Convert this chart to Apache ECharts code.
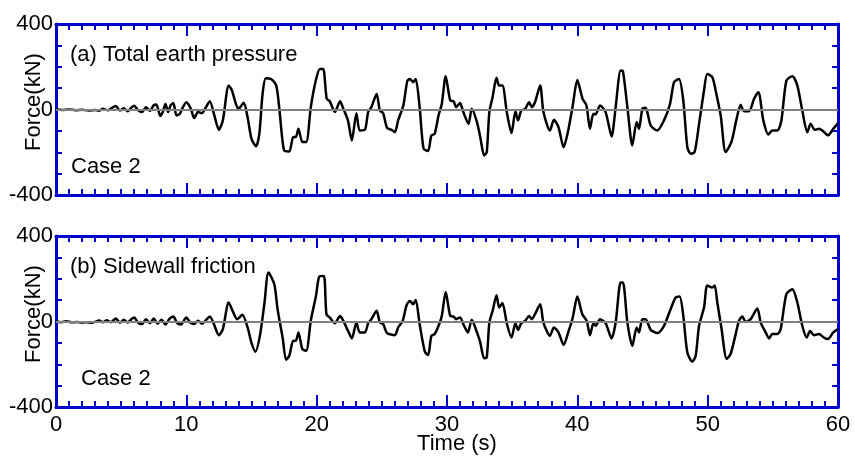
<!DOCTYPE html>
<html>
<head>
<meta charset="utf-8">
<script src="https://cdn.jsdelivr.net/npm/echarts@6/dist/echarts.min.js"></script>
<style>
  html, body { margin: 0; padding: 0; background: #fff; }
  #chart { width: 855px; height: 461px; }
</style>
</head>
<body>
<div id="chart"></div>
<script>
// (a) Total earth pressure, Case 2: time (s) and force (kN)
const timeA = [0, 0.5, 1.0, 1.5, 2.0, 2.5, 3.0, 3.3, 3.6, 4.0, 4.3, 4.6, 4.9, 5.2, 5.5, 5.8, 6.0, 6.3, 6.6, 6.9,
  7.2, 7.5, 7.7, 8.0, 8.2, 8.4, 8.6, 8.8, 9.0, 9.25, 9.5, 9.75, 10.0, 10.35, 10.6, 10.9, 11.2, 11.5, 11.8, 12.15,
  12.5, 12.8, 13.25, 13.5, 13.8, 14.0, 14.4, 14.7, 15.0, 15.35, 15.6, 15.85, 16.1, 16.5, 16.9, 17.15, 17.5, 17.9, 18.2, 18.4,
  18.6, 18.9, 19.2, 19.55, 19.95, 20.25, 20.5, 20.77, 21.0, 21.4, 21.8, 22.05, 22.4, 22.7, 23.05, 23.3, 23.7, 23.95, 24.2, 24.6,
  24.85, 25.1, 25.4, 25.75, 26.0, 26.25, 26.65, 26.95, 27.15, 27.4, 27.6, 27.9, 28.2, 28.55, 28.8, 29.05, 29.35, 29.6, 29.9, 30.25,
  30.5, 30.7, 31.0, 31.25, 31.65, 31.9, 32.3, 32.55, 32.85, 33.05, 33.25, 33.5, 33.8, 34.0, 34.25, 34.6, 34.95, 35.25, 35.45, 35.7,
  36.0, 36.3, 36.5, 36.75, 37.15, 37.4, 37.9, 38.2, 38.55, 38.95, 39.3, 39.65, 40.0, 40.4, 40.7, 40.97, 41.23, 41.4, 41.74, 42.17,
  42.63, 42.94, 43.32, 43.5, 43.84, 44.22, 44.55, 44.73, 44.99, 45.24, 45.63, 46.14, 46.65, 47.11, 47.42, 47.8, 48.13, 48.44, 48.7, 49.0,
  49.34, 49.72, 49.97, 50.36, 50.61, 51.0, 51.38, 51.82, 52.22, 52.53, 52.79, 53.17, 53.56, 53.89, 54.27, 54.65, 54.96, 55.35, 55.65, 56.04,
  56.5, 56.88, 57.26, 57.65, 57.9, 58.21, 58.54, 58.85, 59.23, 59.64, 60.0];
const forceA = [0, -2, 0, -3, -1, -5, -2, -6, 3, -4, 8, 16, -5, 6, -8, 10, 18, -4, -12, 10,
  -6, 20, 23, -30, -10, 26, -12, 20, 30, -28, -20, 12, 34, 3, -40, -12, -17, 10, 39, -28,
  -95, -51, 112, 89, 26, 3, 31, -36, -137, -172, -114, 73, 146, 143, 112, -5, -191, -196, -129, -129,
  -90, -152, -152, 11, 140, 190, 190, 50, 39, -12, 39, 3, -51, -145, -17, -98, -95, -12, 11, 73,
  -5, -17, -86, -95, -106, -51, 19, 132, 143, 128, 143, 11, -183, -194, -121, -114, -28, 26, 156, 42,
  39, 11, 30, -12, -67, 3, -59, -129, -215, -199, -12, 58, 148, 112, 112, -17, -110, -8, -51, -5,
  3, 34, 11, 34, 112, -12, -98, -48, -82, -176, -98, 19, 138, 50, 19, -90, -20, -23, 19, -12,
  -126, 11, 182, 179, 11, -168, -59, -90, 3, 8, -75, -98, -51, 26, 128, 143, 42, -176, -207, -199,
  -67, 89, 166, 151, 89, -28, -199, -152, -44, 22, -8, -8, 50, 81, -51, -117, -98, -98, -54, 135,
  156, 112, -5, -106, -67, -95, -90, -101, -121, -90, -64];

// (b) Sidewall friction, Case 2: time (s) and force (kN)
const timeB = [0, 0.4, 0.8, 1.2, 1.6, 2.0, 2.4, 2.7, 3.0, 3.3, 3.6, 3.9, 4.2, 4.6, 4.9, 5.2, 5.5, 5.8, 6.0, 6.3,
  6.6, 6.9, 7.2, 7.5, 7.8, 8.1, 8.4, 8.7, 9.0, 9.3, 9.6, 9.85, 10.0, 10.3, 10.6, 10.9, 11.2, 11.5, 11.8, 12.1,
  12.5, 12.8, 13.25, 13.55, 13.9, 14.3, 14.7, 15.0, 15.3, 15.65, 16.0, 16.3, 16.75, 17.0, 17.4, 17.65, 17.9, 18.2, 18.4, 18.6,
  18.9, 19.2, 19.55, 19.95, 20.2, 20.55, 20.75, 21.0, 21.4, 21.8, 22.05, 22.4, 22.7, 23.05, 23.3, 23.7, 23.95, 24.2, 24.6, 24.85,
  25.1, 25.4, 26.0, 26.25, 26.6, 26.9, 27.15, 27.4, 27.6, 27.9, 28.3, 28.55, 28.8, 29.05, 29.3, 29.6, 29.9, 30.25, 30.5, 30.7,
  31.0, 31.25, 31.6, 31.9, 32.3, 32.55, 32.85, 33.05, 33.25, 33.5, 33.8, 34.0, 34.25, 34.6, 34.95, 35.25, 35.45, 35.7, 36.0, 36.3,
  36.5, 36.75, 37.15, 37.4, 37.9, 38.2, 38.55, 38.95, 39.3, 39.65, 40.0, 40.38, 40.72, 40.97, 41.23, 41.4, 41.74, 42.17, 42.63, 42.94,
  43.32, 43.5, 43.84, 44.22, 44.55, 44.73, 44.99, 45.24, 45.63, 46.14, 46.65, 47.11, 47.54, 47.85, 48.13, 48.44, 48.82, 49.08, 49.34, 49.72,
  49.97, 50.36, 50.54, 50.74, 51.05, 51.46, 51.76, 52.15, 52.4, 52.66, 52.92, 53.3, 53.81, 54.07, 54.45, 54.71, 54.96, 55.35, 55.6, 56.04,
  56.5, 56.88, 57.26, 57.6, 57.85, 58.16, 58.54, 58.92, 59.23, 59.64, 60.0];
const forceB = [0, -3, 1, -4, -2, -5, -3, -6, -2, 5, -4, 6, -3, 14, -6, 8, -5, 12, 19, -6,
  -12, 10, -8, 14, -10, 8, -14, 12, 23, -8, -14, 8, 19, -5, -12, 4, -10, 6, 23, -10,
  -64, -36, 89, 50, 11, 31, -28, -100, -141, -65, 89, 229, 174, 58, -81, -179, -160, -90, -90, -51,
  -129, -137, 5, 120, 210, 213, 34, 19, -8, 26, 3, -43, -79, -5, -51, -51, -8, 11, 50, -5,
  -12, -54, -64, -28, 3, 76, 96, 81, 101, -12, -141, -157, -67, -59, -28, 26, 138, 26, 23, 11,
  19, -12, -51, 8, -51, -98, -172, -168, -5, 50, 123, 65, 86, -12, -75, -8, -39, -8, 3, 26,
  11, 34, 81, -5, -67, -28, -51, -110, -51, 19, 117, 34, 3, -64, -8, -20, 11, -8, -79, -5,
  182, 182, -5, -114, -28, -51, 11, 11, -39, -54, -20, 50, 112, 117, 26, -145, -188, -160, -20, 65,
  169, 159, 169, 89, -28, -175, -152, -59, 3, 23, -2, 11, 61, -5, -51, -79, -59, -59, -36, 128,
  151, 89, -20, -75, -44, -64, -59, -75, -82, -51, -36];

// Axis settings
const timeMin = 0, timeMax = 60, timeStep = 10;
const forceMin = -400, forceMax = 400, forceStep = 100, forceLabelStep = 400;

const panelTitles = ['(a) Total earth pressure', '(b) Sidewall friction'];
const caseLabel = 'Case 2';
const yName = 'Force(kN)';
const xName = 'Time (s)';

const zip = (t, f) => t.map((v, i) => [v, f[i]]);

const AXIS_BLUE = '#0000cc';
const FONT = '"Liberation Sans", Arial, sans-serif';
const grids = [
  { left: 56, top: 24, width: 782, height: 171 },
  { left: 56, top: 236, width: 782, height: 171 }
];

function xAxisFor(gridIndex, position, showLabels) {
  return {
    type: 'value', gridIndex, position,
    min: timeMin, max: timeMax, interval: timeStep,
    axisLine: { show: true, onZero: false, lineStyle: { color: AXIS_BLUE, width: 3 } },
    axisTick: { show: true, inside: true, length: 12, lineStyle: { color: AXIS_BLUE, width: 2 } },
    minorTick: { show: true, splitNumber: 10, length: 6, lineStyle: { color: AXIS_BLUE, width: 2 } },
    axisLabel: { show: showLabels, color: '#000', fontSize: 22, fontFamily: FONT, margin: 7 },
    splitLine: { show: false }
  };
}
function yAxisFor(gridIndex, position, showLabels) {
  return {
    type: 'value', gridIndex, position,
    min: forceMin, max: forceMax, interval: forceStep,
    axisLine: { show: true, onZero: false, lineStyle: { color: AXIS_BLUE, width: 3 } },
    axisTick: { show: true, inside: true, length: 6, lineStyle: { color: AXIS_BLUE, width: 2 } },
    axisLabel: {
      show: showLabels, color: '#000', fontSize: 22, fontFamily: FONT, margin: 3,
      formatter: v => (v % forceLabelStep === 0 ? String(v) : '')
    },
    splitLine: { show: false }
  };
}

function seriesFor(idx, data) {
  return {
    type: 'line', xAxisIndex: idx * 2, yAxisIndex: idx * 2,
    data, showSymbol: false, symbol: 'none', animation: false,
    smooth: 0.25,
    lineStyle: { color: '#000', width: 2.5 },
    markLine: {
      silent: true, symbol: 'none', animation: false,
      label: { show: false },
      lineStyle: { color: '#808080', width: 2, type: 'solid' },
      data: [{ yAxis: 0 }]
    },
    z: 3
  };
}

// Plain text placed by the top of its line box
function text(str, x, y, extra) {
  return {
    type: 'text', x, y, z: 10,
    style: Object.assign({ text: str, fill: '#000', font: '22px ' + FONT, verticalAlign: 'top' }, extra || {})
  };
}

const chart = echarts.init(document.getElementById('chart'), null, { renderer: 'canvas' });
chart.setOption({
  animation: false,
  backgroundColor: '#fff',
  grid: grids,
  xAxis: [
    xAxisFor(0, 'bottom', false), xAxisFor(0, 'top', false),
    xAxisFor(1, 'bottom', true), xAxisFor(1, 'top', false)
  ],
  yAxis: [
    yAxisFor(0, 'left', true), yAxisFor(0, 'right', false),
    yAxisFor(1, 'left', true), yAxisFor(1, 'right', false)
  ],
  series: [seriesFor(0, zip(timeA, forceA)), seriesFor(1, zip(timeB, forceB))],
  graphic: [
    text(panelTitles[0], 70, 44),
    text(caseLabel, 71, 156),
    text(panelTitles[1], 70, 256),
    text(caseLabel, 81, 368),
    { type: 'text', x: 34, y: 102, rotation: Math.PI / 2, z: 10,
      style: { text: yName, fill: '#000', font: '22px ' + FONT, align: 'center', verticalAlign: 'middle' } },
    { type: 'text', x: 34, y: 314, rotation: Math.PI / 2, z: 10,
      style: { text: yName, fill: '#000', font: '22px ' + FONT, align: 'center', verticalAlign: 'middle' } },
    text(xName, 457, 433, { align: 'center' })
  ]
});
</script>
</body>
</html>
